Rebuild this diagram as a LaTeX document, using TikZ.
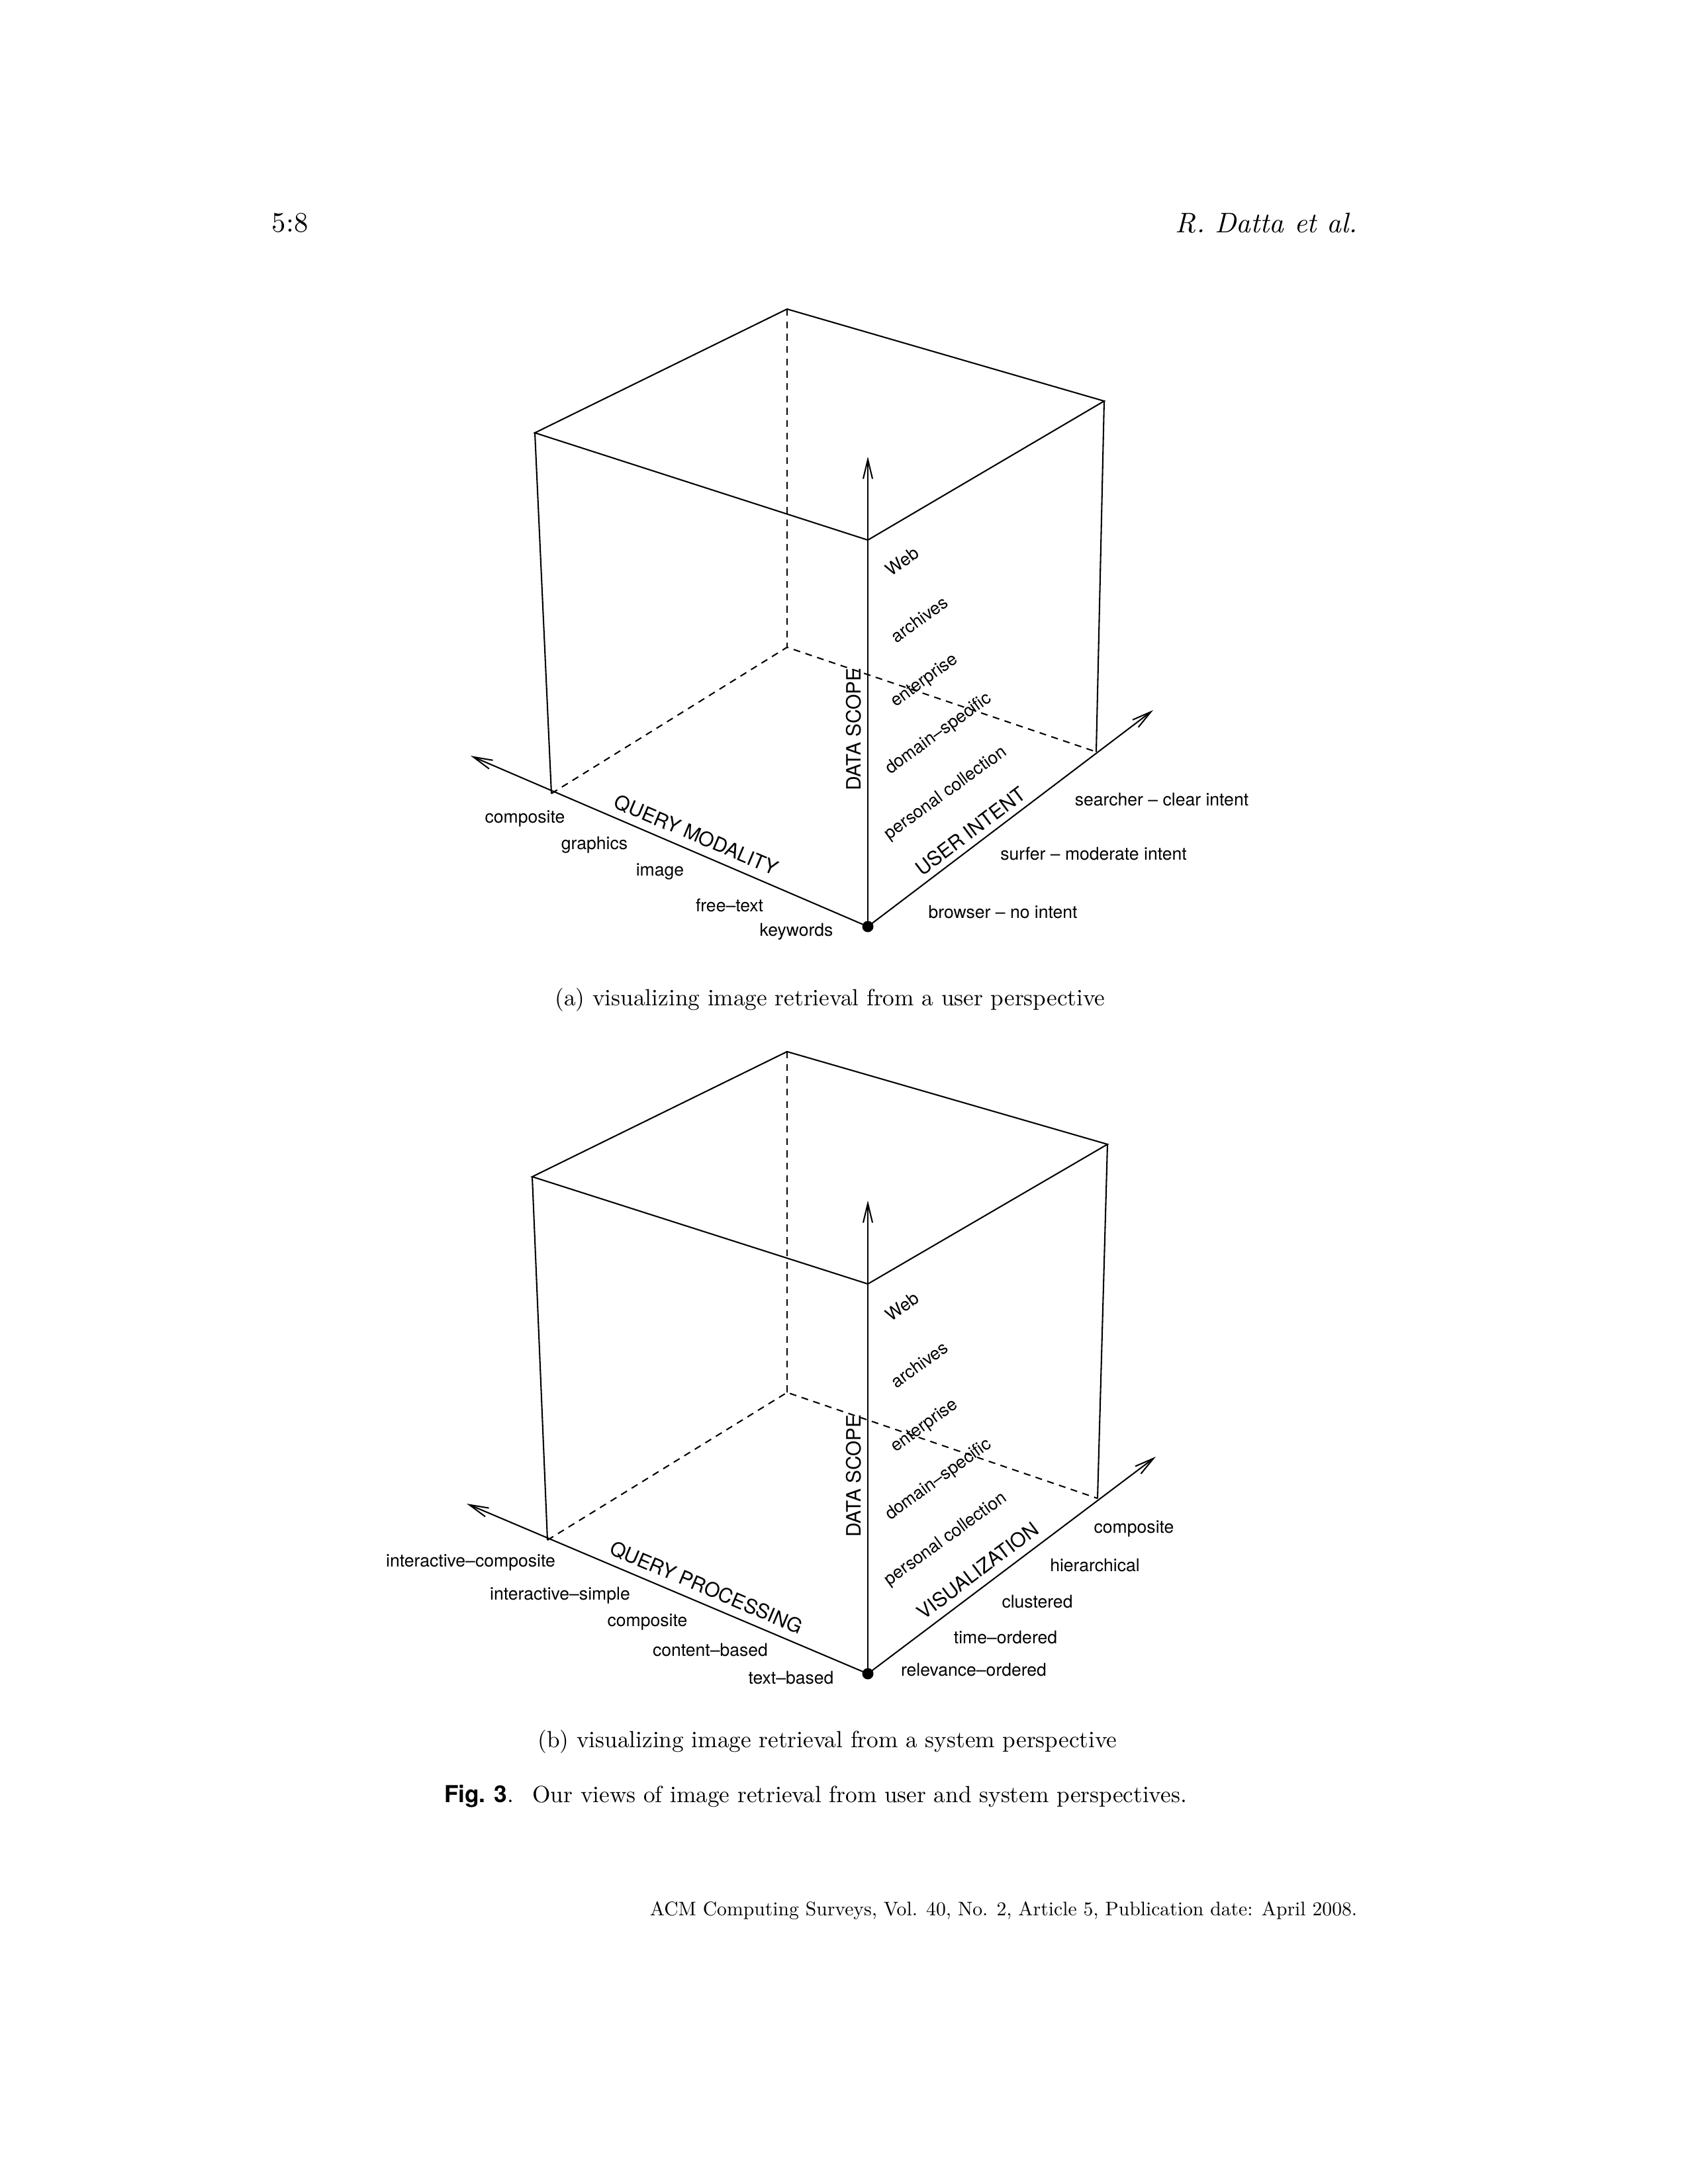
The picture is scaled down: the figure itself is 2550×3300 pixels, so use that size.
\documentclass[tikz,border=0pt]{standalone}
\usepackage{fontspec}
\setmainfont{lmroman10-regular.otf}[ItalicFont=lmroman10-italic.otf, BoldFont=lmroman10-bold.otf]
\newfontfamily\helv{TeX Gyre Heros}
\usetikzlibrary{arrows.meta}

\begin{document}
\begin{tikzpicture}[
    x=0.0084667cm, y=-0.0084667cm,
    edge/.style={line width=0.5pt},
    hidden/.style={line width=0.5pt, dash pattern=on 2.5pt off 2pt},
    axis/.style={
      line width=0.5pt,
      -{Straight Barb[length=7pt,width=3.4pt]}
    },
    tick/.style={font=\helv\fontsize{6.4}{7}\selectfont, inner sep=0pt},
    axislabel/.style={font=\helv\fontsize{7.2}{8}\selectfont, inner sep=0pt},
    caption/.style={font=\fontsize{8.5}{10}\selectfont, inner sep=0pt}
  ]
  \useasboundingbox (0,0) rectangle (2550,3300);

  % page header
  \node[anchor=west, inner sep=0pt, font=\fontsize{10.3}{12}\selectfont] (pageno) at (410,337) {5:8};
  \node[anchor=east, inner sep=0pt, font=\itshape\fontsize{10.3}{12}\selectfont] (authors) at (2051,337) {R. Datta et al.};

  % ---- (a) user perspective ----
  \coordinate (aO) at (1311,1400);
  \coordinate (aT) at (1311,816);
  \coordinate (aB) at (1189,467);
  \coordinate (aL) at (808,654);
  \coordinate (aR) at (1668,606);
  \coordinate (aBL) at (833,1199);
  \coordinate (aBR) at (1656,1136);
  \coordinate (aBB) at (1189,978);
  \coordinate (aZ) at (1311,690);
  \coordinate (aX) at (711,1142);
  \coordinate (aY) at (1742,1073);

  \draw[edge] (aL) -- (aB) -- (aR) -- (aT) -- cycle;
  \draw[edge] (aL) -- (aBL);
  \draw[edge] (aR) -- (aBR);
  \draw[hidden] (aBL) -- (aBB) -- (aBR);
  \draw[hidden] (aB) -- (aBB);
  \draw[axis] (aO) -- (aZ);
  \draw[axis] (aO) -- (aX);
  \draw[axis] (aO) -- (aY);
  \fill (aO) circle (8.5);

  \node[tick] (qm1) at (793,1237) {composite};
  \node[tick] (qm2) at (898,1277) {graphics};
  \node[tick] (qm3) at (997,1317) {image};
  \node[tick] (qm4) at (1102,1368) {free–text};
  \node[tick] (qm5) at (1203,1408) {keywords};
  \node[axislabel, rotate=-23] (qmlab) at (1052,1262) {QUERY MODALITY};

  \node[tick] (ui1) at (1515,1378) {browser – no intent};
  \node[tick] (ui2) at (1652,1290) {surfer – moderate intent};
  \node[tick] (ui3) at (1755,1208) {searcher – clear intent};
  \node[axislabel, rotate=37] (uilab) at (1466,1256) {USER INTENT};

  \node[tick, rotate=36] (ads1) at (1429,1199) {personal collection};
  \node[tick, rotate=36] (ads2) at (1418,1109) {domain–specific};
  \node[tick, rotate=36] (ads3) at (1397,1029) {enterprise};
  \node[tick, rotate=36] (ads4) at (1389,936) {archives};
  \node[tick, rotate=36] (ads5) at (1363,848) {Web};
  \node[axislabel, rotate=90] (adslab) at (1290,1102) {DATA SCOPE};

  \node[caption] (capa) at (1254,1511) {(a) visualizing image retrieval from a user perspective};

  % ---- (b) system perspective ----
  \coordinate (bO) at (1311,2529);
  \coordinate (bT) at (1311,1940);
  \coordinate (bB) at (1189,1589);
  \coordinate (bL) at (804,1778);
  \coordinate (bR) at (1673,1729);
  \coordinate (bBL) at (827,2327);
  \coordinate (bBR) at (1658,2264);
  \coordinate (bBB) at (1189,2104);
  \coordinate (bZ) at (1311,1814);
  \coordinate (bX) at (705,2272);
  \coordinate (bY) at (1746,2201);

  \draw[edge] (bL) -- (bB) -- (bR) -- (bT) -- cycle;
  \draw[edge] (bL) -- (bBL);
  \draw[edge] (bR) -- (bBR);
  \draw[hidden] (bBL) -- (bBB) -- (bBR);
  \draw[hidden] (bB) -- (bBB);
  \draw[axis] (bO) -- (bZ);
  \draw[axis] (bO) -- (bX);
  \draw[axis] (bO) -- (bY);
  \fill (bO) circle (8.5);

  \node[tick] (qp1) at (711,2361) {interactive–composite};
  \node[tick] (qp2) at (846,2411) {interactive–simple};
  \node[tick] (qp3) at (978,2451) {composite};
  \node[tick] (qp4) at (1073,2493) {content–based};
  \node[tick] (qp5) at (1195,2535) {text–based};
  \node[axislabel, rotate=-23] (qplab) at (1067,2399) {QUERY PROCESSING};

  \node[tick] (vis1) at (1471,2523) {relevance–ordered};
  \node[tick] (vis2) at (1519,2474) {time–ordered};
  \node[tick] (vis3) at (1567,2420) {clustered};
  \node[tick] (vis4) at (1654,2365) {hierarchical};
  \node[tick] (vis5) at (1713,2310) {composite};
  \node[axislabel, rotate=37] (vislab) at (1477,2373) {VISUALIZATION};

  \node[tick, rotate=36] (bds1) at (1429,2326) {personal collection};
  \node[tick, rotate=36] (bds2) at (1418,2236) {domain–specific};
  \node[tick, rotate=36] (bds3) at (1397,2155) {enterprise};
  \node[tick, rotate=36] (bds4) at (1389,2062) {archives};
  \node[tick, rotate=36] (bds5) at (1363,1974) {Web};
  \node[axislabel, rotate=90] (bdslab) at (1290,2230) {DATA SCOPE};

  \node[caption] (capb) at (1250,2632) {(b) visualizing image retrieval from a system perspective};

  % figure caption and footer
  \node[caption] (figcap) at (1232,2714) {{\helv\bfseries Fig. 3}.\hspace{0.8em}Our views of image retrieval from user and system perspectives.};
  \node[anchor=east, inner sep=0pt, font=\fontsize{7.15}{9}\selectfont] (footer) at (2051,2887) {ACM Computing Surveys, Vol. 40, No. 2, Article 5, Publication date: April 2008.};
\end{tikzpicture}
\end{document}
